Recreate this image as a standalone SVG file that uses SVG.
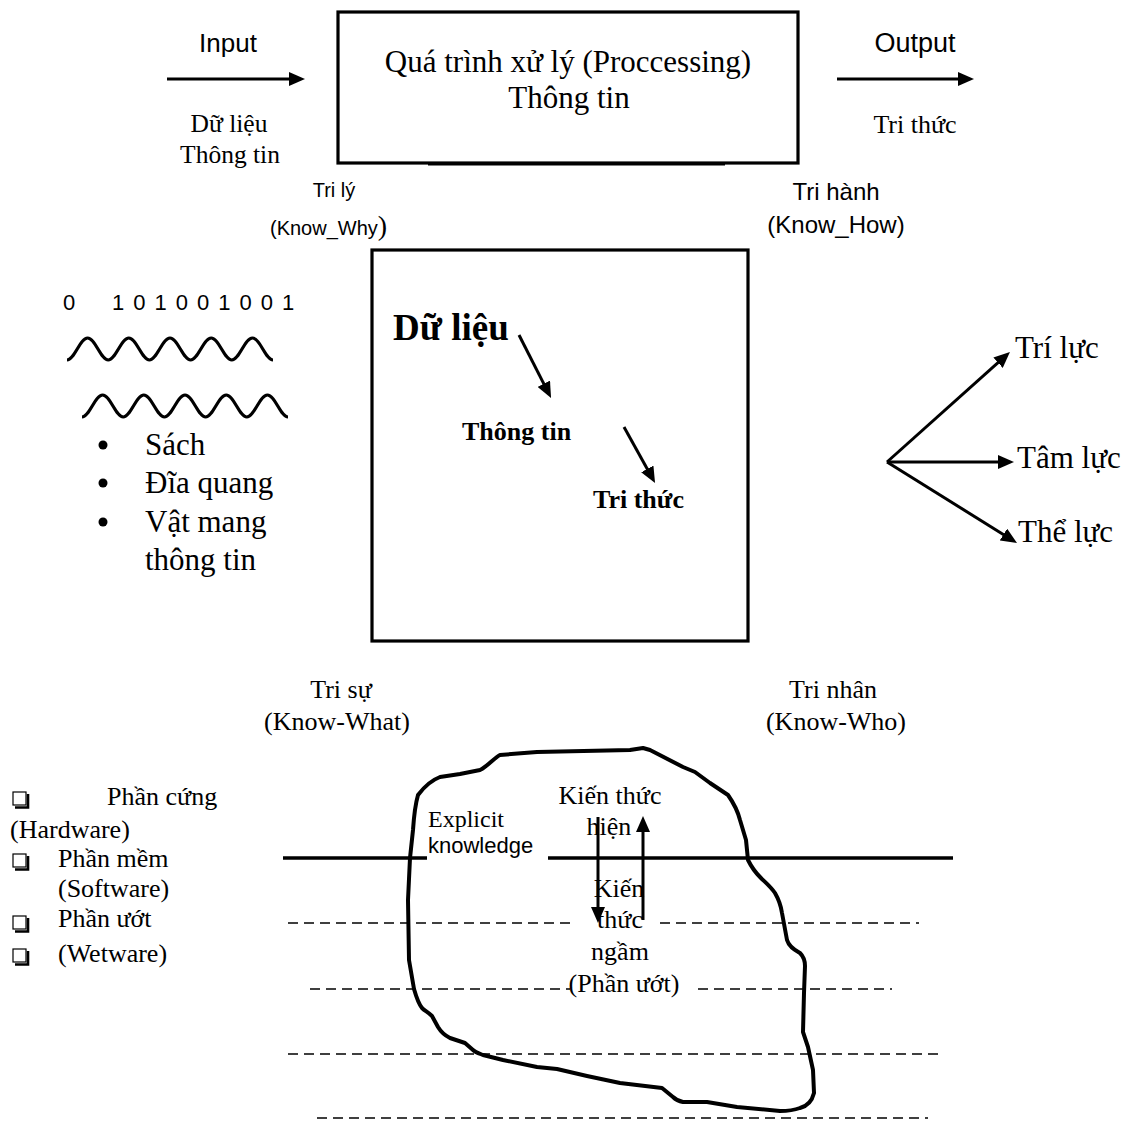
<svg xmlns="http://www.w3.org/2000/svg" width="1133" height="1121" viewBox="0 0 1133 1121">
<style>
.s{font-family:"Liberation Serif","Times New Roman",serif;fill:#000}
.a{font-family:"Liberation Sans",Arial,sans-serif;fill:#000}
.b{font-weight:bold}
.m{text-anchor:middle}
.ln{stroke:#000;stroke-width:3;fill:none}
.arr{stroke:#000;stroke-width:3;fill:none;marker-end:url(#ah)}
.dash{stroke:#000;stroke-width:1.5;stroke-dasharray:10 6;fill:none}
.cb{fill:none;stroke:#000;stroke-width:1.2}
.cbs{fill:none;stroke:#000;stroke-width:2.6}
</style>
<defs>
<marker id="ah" viewBox="0 0 16 14" refX="6" refY="7" markerWidth="16" markerHeight="14" markerUnits="userSpaceOnUse" orient="auto">
<path d="M0,0 L16,7 L0,14 z" fill="#000"/>
</marker>
</defs>
<rect width="1133" height="1121" fill="#fff"/>

<g id="processing">
<rect x="338" y="12" width="460" height="151" fill="none" stroke="#000" stroke-width="3.2"/>
<line x1="428" y1="164.5" x2="725" y2="164.5" stroke="#000" stroke-width="2"/>
<text class="s m" x="568" y="72" font-size="31">Quá trình xử lý (Proccessing)</text>
<text class="s m" x="569" y="108" font-size="31">Thông tin</text>
</g>

<g id="input">
<text class="a m" x="228" y="52" font-size="26">Input</text>
<text class="s m" x="229" y="132" font-size="25.5">Dữ liệu</text>
<text class="s m" x="230" y="163" font-size="25.5">Thông tin</text>
</g>

<g id="output">
<text class="a m" x="915" y="52" font-size="27">Output</text>
<text class="s m" x="915" y="133" font-size="26">Tri thức</text>
</g>

<g id="know-why">
<text class="a m" x="334" y="197" font-size="20">Tri lý</text>
<text class="a" x="270" y="235" font-size="20">(Know_Why<tspan font-size="28" font-family="Liberation Serif, serif">)</tspan></text>
</g>

<g id="know-how">
<text class="a m" x="836" y="200" font-size="24">Tri hành</text>
<text class="a m" x="836" y="233" font-size="24">(Know_How)</text>
</g>

<g id="signals">
<text class="a" x="63" y="310" font-size="22">0</text>
<text class="a" x="112" y="310" font-size="22" letter-spacing="9">101001001</text>
<path class="ln" stroke-width="2.4" d="M67,360 C74.4,360 80,338 87.6,338 C95.2,338 100.8,360 108.2,360 C115.6,360 121.2,338 128.8,338 C136.4,338 142,360 149.4,360 C156.8,360 162.4,338 170,338 C177.6,338 183.2,360 190.6,360 C198,360 203.6,338 211.2,338 C218.8,338 224.4,360 231.8,360 C239.2,360 244.8,338 252.4,338 C260,338 265.6,360 273,360"/>
<path class="ln" stroke-width="2.4" d="M82,417 C89.4,417 95,395 102.6,395 C110.2,395 115.8,417 123.2,417 C130.6,417 136.2,395 143.8,395 C151.4,395 157,417 164.4,417 C171.8,417 177.4,395 185,395 C192.6,395 198.2,417 205.6,417 C213,417 218.6,395 226.2,395 C233.8,395 239.4,417 246.8,417 C254.2,417 259.8,395 267.4,395 C275,395 280.6,417 288,417"/>
</g>

<g id="media">
<circle cx="103" cy="445" r="4.5"/>
<circle cx="103" cy="483" r="4.5"/>
<circle cx="103" cy="522" r="4.5"/>
<text class="s" x="145" y="455" font-size="31">Sách</text>
<text class="s" x="145" y="493" font-size="31">Đĩa quang</text>
<text class="s" x="145" y="532" font-size="31">Vật mang</text>
<text class="s" x="145" y="570" font-size="31">thông tin</text>
</g>

<g id="knowledge-box">
<rect x="372" y="250" width="376" height="391" fill="none" stroke="#000" stroke-width="3.2"/>
<text class="s b" x="393" y="340" font-size="37">Dữ liệu</text>
<text class="s b" x="462" y="440" font-size="26">Thông tin</text>
<text class="s b" x="593" y="508" font-size="26">Tri thức</text>
</g>

<g id="forces">
<text class="s" x="1015" y="358" font-size="31">Trí lực</text>
<text class="s" x="1017" y="468" font-size="31">Tâm lực</text>
<text class="s" x="1018" y="542" font-size="31">Thể lực</text>
</g>

<g id="know-what">
<text class="s m" x="341" y="698" font-size="26">Tri sự</text>
<text class="s m" x="337" y="730" font-size="26">(Know-What)</text>
</g>

<g id="know-who">
<text class="s m" x="833" y="698" font-size="26">Tri nhân</text>
<text class="s m" x="836" y="730" font-size="26">(Know-Who)</text>
</g>

<g id="components">
<rect class="cb" x="13" y="792" width="13" height="13"/><path class="cbs" d="M28,794 V807.5 H15"/>
<rect class="cb" x="13" y="854" width="13" height="13"/><path class="cbs" d="M28,856 V869.5 H15"/>
<rect class="cb" x="13" y="916" width="13" height="13"/><path class="cbs" d="M28,918 V931.5 H15"/>
<rect class="cb" x="13" y="949" width="13" height="13"/><path class="cbs" d="M28,951 V964.5 H15"/>
<text class="s" x="107" y="805" font-size="26">Phần cứng</text>
<text class="s" x="10" y="838" font-size="26">(Hardware)</text>
<text class="s" x="58" y="867" font-size="26">Phần mềm</text>
<text class="s" x="58" y="897" font-size="26">(Software)</text>
<text class="s" x="58" y="927" font-size="26">Phần ướt</text>
<text class="s" x="58" y="962" font-size="26">(Wetware)</text>
</g>

<g id="iceberg">
<path fill="none" stroke="#000" stroke-width="4" stroke-linejoin="round" d="M418,795 C424,787 432,780 440,777 L460,774 L480,770 C488,766 494,758 500,755 L537,752 L630,750 L643,748 L650,750 L683,767 L695,772 L710,783 L728,795 C735,805 738,812 740,820 L746,840 L748,860 C752,868 755,872 760,877 C766,883 771,887 775,893 C779,900 781,906 782,913 L787,940 C789,947 795,950 800,953 C804,957 805,960 805,966 L804,993 L803,1032 L808,1047 L813,1070 L814,1093 C812,1101 808,1106 800,1108 C792,1111 786,1111 780,1111 L737,1107 L707,1102 L683,1102 C678,1101 675,1099 673,1097 L662,1088 L620,1083 L587,1076 L557,1069 L537,1067 L503,1060 L483,1055 C478,1053 475,1052 473,1050 L465,1043 L450,1038 C444,1035 441,1032 438,1027 L432,1016 C428,1012 425,1011 422,1008 C418,1003 416,996 414,989 L409,960 L408,900 L410,858 L413,830 C414,815 416,802 418,795 Z"/>
<text class="s" x="428" y="827" font-size="24">Explicit</text>
<text class="a" x="428" y="853" font-size="22">knowledge</text>
<text class="s m" x="610" y="804" font-size="26">Kiến thức</text>
<text class="s m" x="609" y="835" font-size="26">hiện</text>
<text class="s m" x="619" y="897" font-size="26">Kiến</text>
<text class="s m" x="620" y="928" font-size="26">thức</text>
<text class="s m" x="620" y="960" font-size="26">ngầm</text>
<text class="s m" x="624" y="992" font-size="26">(Phần ướt)</text>
</g>

<g id="water-lines">
<line x1="283" y1="858" x2="427" y2="858" stroke="#000" stroke-width="3.5"/>
<line x1="548" y1="858" x2="953" y2="858" stroke="#000" stroke-width="3.5"/>
<line class="dash" x1="288" y1="923" x2="570" y2="923"/>
<line class="dash" x1="660" y1="923" x2="919" y2="923"/>
<line class="dash" x1="310" y1="989" x2="570" y2="989"/>
<line class="dash" x1="698" y1="989" x2="892" y2="989"/>
<line class="dash" x1="288" y1="1054" x2="942" y2="1054"/>
<line class="dash" x1="317" y1="1118" x2="928" y2="1118"/>
</g>

<g id="connectors">
<line class="arr" x1="167" y1="79" x2="295" y2="79"/>
<line class="arr" x1="837" y1="79" x2="964" y2="79"/>
<line class="arr" x1="519" y1="335" x2="546.5" y2="389.1"/>
<line class="arr" x1="624" y1="427" x2="650.2" y2="474.2"/>
<line class="arr" x1="887" y1="462" x2="1002.5" y2="358.7"/>
<line class="arr" x1="887" y1="462" x2="1004" y2="462"/>
<line class="arr" x1="887" y1="462" x2="1008.5" y2="537.7"/>
<line class="arr" stroke-width="2.5" x1="598" y1="817" x2="598" y2="913"/>
<line class="arr" stroke-width="2.5" x1="643" y1="920" x2="643" y2="826"/>
</g>
</svg>
